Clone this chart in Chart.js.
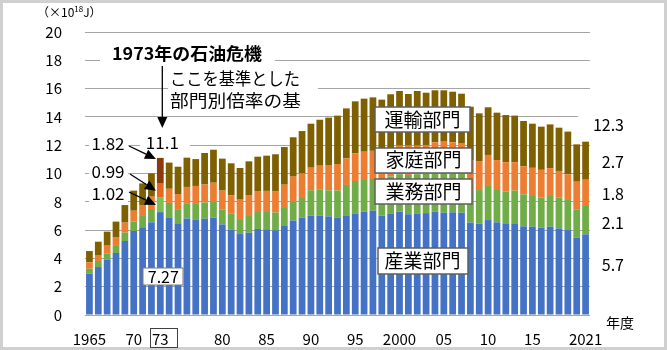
<!DOCTYPE html>
<html>
<head>
<meta charset="utf-8">
<script src="https://cdn.jsdelivr.net/npm/chart.js@4.4.0/dist/chart.umd.min.js"></script>
<style>
  html, body { margin: 0; padding: 0; background: #fff; }
</style>
</head>
<body>
<canvas id="myChart" width="667" height="350"></canvas>
<script>
// 最終エネルギー消費の推移（×10^18 J）
const years = [
  1965, 1966, 1967, 1968, 1969, 1970, 1971, 1972, 1973, 1974,
  1975, 1976, 1977, 1978, 1979, 1980, 1981, 1982, 1983, 1984,
  1985, 1986, 1987, 1988, 1989, 1990, 1991, 1992, 1993, 1994,
  1995, 1996, 1997, 1998, 1999, 2000, 2001, 2002, 2003, 2004,
  2005, 2006, 2007, 2008, 2009, 2010, 2011, 2012, 2013, 2014,
  2015, 2016, 2017, 2018, 2019, 2020, 2021
];
const industry = [
  2.92, 3.39, 3.93, 4.38, 5.23, 5.94, 6.20, 6.55, 7.27, 6.90,
  6.48, 6.82, 6.72, 6.80, 6.88, 6.40, 6.05, 5.72, 5.82, 6.08,
  6.06, 5.99, 6.29, 6.67, 6.87, 7.03, 7.03, 6.97, 6.89, 7.00,
  7.18, 7.30, 7.37, 7.02, 7.18, 7.30, 7.12, 7.18, 7.20, 7.30,
  7.23, 7.26, 7.23, 6.53, 6.45, 6.71, 6.55, 6.48, 6.48, 6.27,
  6.24, 6.18, 6.24, 6.12, 6.00, 5.47, 5.70
];
const commercial = [
  0.35, 0.43, 0.43, 0.50, 0.59, 0.66, 0.80, 0.94, 1.02, 1.02,
  1.00, 1.08, 1.13, 1.15, 1.12, 1.07, 1.14, 1.06, 1.18, 1.20,
  1.22, 1.25, 1.27, 1.33, 1.40, 1.79, 1.82, 1.84, 1.91, 2.19,
  2.29, 2.24, 2.24, 2.58, 2.62, 2.65, 2.78, 2.77, 2.78, 2.75,
  2.82, 2.74, 2.77, 2.30, 2.38, 2.41, 2.35, 2.24, 2.31, 2.26,
  2.17, 2.11, 2.17, 2.17, 2.13, 2.00, 2.07
];
const residential = [
  0.45, 0.42, 0.54, 0.59, 0.71, 0.77, 0.77, 0.87, 0.99, 1.00,
  1.07, 1.15, 1.27, 1.27, 1.35, 1.32, 1.28, 1.37, 1.48, 1.48,
  1.49, 1.52, 1.65, 1.78, 1.73, 1.59, 1.70, 1.79, 1.87, 1.88,
  1.96, 2.00, 1.99, 2.05, 2.00, 2.02, 2.07, 2.02, 2.02, 2.15,
  2.20, 2.20, 2.11, 2.12, 2.05, 2.19, 2.05, 2.08, 2.01, 1.97,
  1.99, 1.97, 1.97, 1.89, 1.81, 1.95, 1.79
];
const transport = [
  0.80, 0.94, 0.99, 1.13, 1.24, 1.42, 1.53, 1.65, 1.82, 1.85,
  1.93, 2.07, 1.90, 2.23, 2.33, 2.26, 2.25, 2.24, 2.38, 2.43,
  2.49, 2.60, 2.66, 2.78, 3.00, 3.11, 3.25, 3.35, 3.42, 3.53,
  3.67, 3.75, 3.78, 3.57, 3.80, 3.86, 3.65, 3.86, 3.71, 3.68,
  3.63, 3.58, 3.53, 3.77, 3.37, 3.37, 3.35, 3.33, 3.29, 3.21,
  3.12, 3.05, 3.09, 3.06, 3.02, 2.64, 2.69
];

// x軸に出す年と表記
const tickYears = [1965, 1970, 1973, 1980, 1985, 1990, 1995, 2000, 2005, 2010, 2015, 2021];
const tickText = ["1965", "70", "73", "80", "85", "90", "95", "2000", "05", "10", "15", "2021"];

// 基準年（1973）と最新年（2021）のラベル：産業, 業務, 家庭, 運輸
const baseYear = 1973;
const baseLabels = ["7.27", "1.02", "0.99", "1.82"];
const baseTotal = "11.1";
const lastLabels = ["5.7", "2.1", "1.8", "2.7"];
const lastTotal = "12.3";
const sectorNames = ["産業部門", "業務部門", "家庭部門", "運輸部門"];

const FONT = "'Noto Sans CJK JP', 'Noto Sans', sans-serif";
const baseIdx = years.indexOf(baseYear);

// 1973年だけ色を変える
const colorsFor = (normal, special) => years.map((y) => (y === baseYear ? special : normal));

function textBox(c, txt, cx, cy, size, o = {}) {
  c.save();
  c.font = (o.bold ? "bold " : "") + size + "px " + FONT;
  c.textAlign = o.align || "center";
  c.textBaseline = "middle";
  const w = c.measureText(txt).width;
  if (o.box) {
    const [bx, by, bw, bh] = o.box;
    c.fillStyle = "#fff";
    c.fillRect(bx, by, bw, bh);
    if (o.border) {
      c.strokeStyle = o.border;
      c.lineWidth = o.lw || 1;
      c.strokeRect(bx, by, bw, bh);
    }
  }
  c.fillStyle = o.color || "#000";
  if (o.fitW) {
    c.translate(cx, cy);
    c.scale(o.fitW / w, 1);
    c.fillText(txt, 0, 0);
  } else {
    c.fillText(txt, cx, cy);
  }
  c.restore();
}

function arrow(c, x1, y1, x2, y2) {
  const ang = Math.atan2(y2 - y1, x2 - x1);
  const len = 11, half = 5;
  const bx = x2 - len * Math.cos(ang), by = y2 - len * Math.sin(ang);
  c.save();
  c.strokeStyle = "#000";
  c.fillStyle = "#000";
  c.lineWidth = 1.3;
  c.beginPath();
  c.moveTo(x1, y1);
  c.lineTo(bx, by);
  c.stroke();
  c.beginPath();
  c.moveTo(x2, y2);
  c.lineTo(bx + half * Math.sin(ang), by - half * Math.cos(ang));
  c.lineTo(bx - half * Math.sin(ang), by + half * Math.cos(ang));
  c.closePath();
  c.fill();
  c.restore();
}

const notes = {
  id: "notes",
  beforeDraw(chart) {
    const c = chart.ctx;
    c.save();
    c.fillStyle = "#fff";
    c.fillRect(0, 0, chart.width, chart.height);
    c.restore();
  },
  afterDraw(chart) {
    const c = chart.ctx;
    const xs = chart.scales.x;
    const ys = chart.scales.y;
    const bar = chart.getDatasetMeta(0).data[baseIdx];
    const bx = xs.getPixelForValue(baseIdx);
    const left = bx - bar.width / 2;

    // 外枠
    c.save();
    c.strokeStyle = "#d0d0d0";
    c.lineWidth = 3;
    c.strokeRect(1.5, 1.5, chart.width - 3, chart.height - 3);
    c.restore();

    // 単位
    c.save();
    c.fillStyle = "#000";
    c.textBaseline = "middle";
    c.font = "12px " + FONT;
    c.fillText("（×10", 37, 12);
    let w = c.measureText("（×10").width;
    c.font = "8px " + FONT;
    c.fillText("18", 37 + w, 9);
    const w2 = c.measureText("18").width;
    c.font = "12px " + FONT;
    c.fillText("J）", 37 + w + w2, 12);
    c.restore();

    // 石油危機
    textBox(c, "1973年の石油危機", 187, 54, 17, { bold: true, box: [100, 45, 175, 19], fitW: 150 });
    arrow(c, bx + 2, 66, bx + 2, 128);
    textBox(c, "ここを基準とした", 170, 79, 17, { align: "left", box: [168, 69, 150, 43], fitW: 130 });
    textBox(c, "部門別倍率の基", 170, 101, 17, { align: "left", fitW: 131 });

    // 1973年の値
    const t = industry[baseIdx], cm = commercial[baseIdx], r = residential[baseIdx], tr = transport[baseIdx];
    textBox(c, baseTotal, bx + 2, 143, 17, { box: [140, 134, 50, 18] });
    textBox(c, baseLabels[3], 108, 144, 17, { box: [89, 135, 39, 18] });
    textBox(c, baseLabels[2], 108, 172, 17, { box: [89, 163, 39, 19] });
    textBox(c, baseLabels[1], 108, 194, 17, { box: [89, 185, 39, 18] });
    arrow(c, 129, 146, left - 1, ys.getPixelForValue(t + cm + r + tr) + 1);
    arrow(c, 130, 174, left - 1, ys.getPixelForValue(t + cm + r / 2));
    arrow(c, 129, 192, left - 1, ys.getPixelForValue(t + cm / 2));
    textBox(c, baseLabels[0], bx + 3, 276.5, 16, { box: [143, 268, 40, 17], border: "#7a7a7a", lw: 1 });

    // 部門名
    textBox(c, sectorNames[3], 422.5, 120, 19, { box: [375, 107, 95, 25], border: "#5f5f5f", lw: 1.5 });
    textBox(c, sectorNames[2], 423.5, 160, 19, { box: [375, 148, 97, 25], border: "#5f5f5f", lw: 1.5 });
    textBox(c, sectorNames[1], 423.5, 191.5, 19, { box: [375, 179, 97, 25], border: "#5f5f5f", lw: 1.5 });
    textBox(c, sectorNames[0], 422.5, 261, 19, { box: [378, 248, 90, 26], border: "#5f5f5f", lw: 1.5 });

    // 2021年の値
    textBox(c, lastTotal, 624, 125, 16, { align: "right", box: [578, 114, 52, 22] });
    textBox(c, lastLabels[3], 624, 162, 16, { align: "right" });
    textBox(c, lastLabels[2], 624, 194, 16, { align: "right" });
    textBox(c, lastLabels[1], 624, 223, 16, { align: "right" });
    textBox(c, lastLabels[0], 624, 265, 16, { align: "right" });

    textBox(c, "年度", 620, 323, 14);

    // 73 の枠
    c.save();
    c.strokeStyle = "#404040";
    c.lineWidth = 1;
    c.strokeRect(Math.round(bx - 10) + 0.5, 328.5, 27, 19);
    c.restore();
  }
};

const ctx = document.getElementById("myChart").getContext("2d");
new Chart(ctx, {
  type: "bar",
  data: {
    labels: years.map(String),
    datasets: [
      { label: sectorNames[0], data: industry, backgroundColor: colorsFor("#4472C4", "#4472C4") },
      { label: sectorNames[1], data: commercial, backgroundColor: colorsFor("#70AD47", "#7CC04E") },
      { label: sectorNames[2], data: residential, backgroundColor: colorsFor("#ED7D31", "#E4691F") },
      { label: sectorNames[3], data: transport, backgroundColor: colorsFor("#7F6000", "#8B3A0E") },
    ],
  },
  options: {
    responsive: false,
    animation: false,
    layout: { padding: { top: 32, right: 77, bottom: 0, left: 0 } },
    plugins: { legend: { display: false }, tooltip: { enabled: false } },
    datasets: { bar: { categoryPercentage: 1, barPercentage: 0.76 } },
    scales: {
      x: {
        stacked: true,
        grid: { display: false },
        border: { display: false },
        afterFit: (scale) => { scale.height = 35; },
        ticks: {
          autoSkip: false,
          maxRotation: 0,
          padding: 7,
          color: "#000",
          font: { size: 15, family: FONT },
          callback: (value, index) => {
            const k = tickYears.indexOf(years[index]);
            return k >= 0 ? tickText[k] : "";
          },
        },
      },
      y: {
        stacked: true,
        min: 0,
        max: 20,
        grid: { color: "#a6a6a6", lineWidth: 1, drawTicks: false },
        border: { display: false },
        afterFit: (scale) => { scale.width = 85; },
        ticks: {
          stepSize: 2,
          padding: 23,
          color: "#000",
          font: { size: 15, family: FONT },
        },
      },
    },
  },
  plugins: [notes],
});
</script>
</body>
</html>
